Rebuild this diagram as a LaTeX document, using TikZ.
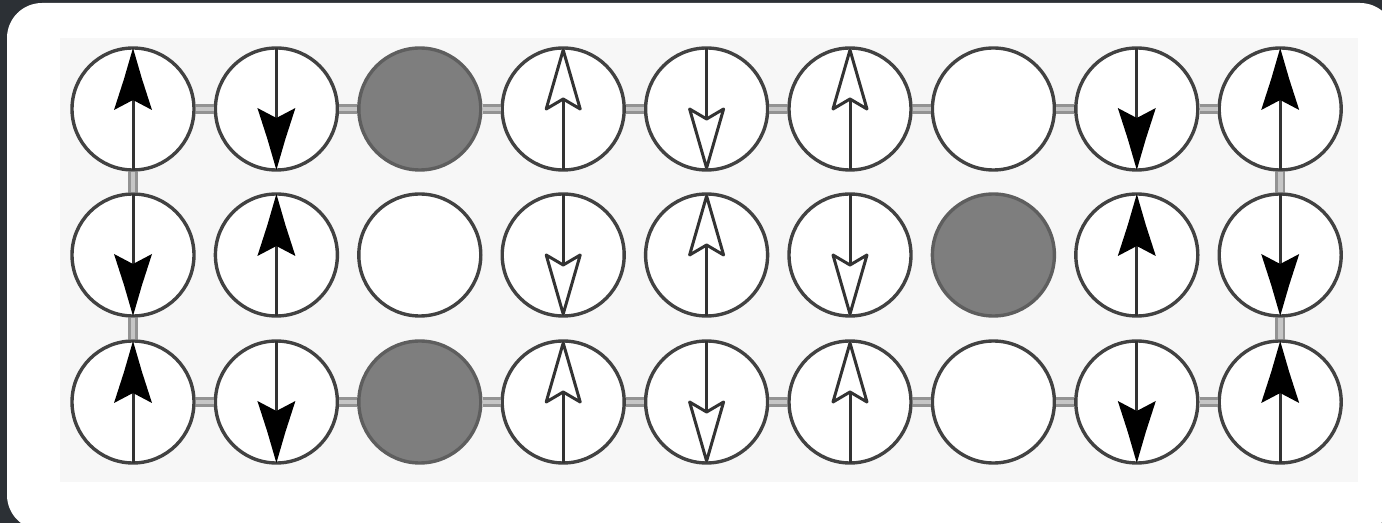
\documentclass[tikz,border=0pt]{standalone}
\usetikzlibrary{calc}
\definecolor{bgdark}{HTML}{2C3035}
\definecolor{panel}{HTML}{F7F7F7}
\definecolor{ring}{HTML}{424242}
\definecolor{disk}{HTML}{7E7E7E}
\begin{document}
\begin{tikzpicture}[x=0.5pt,y=-0.5pt,
  site/.style={circle,draw=ring,line width=1.7pt,minimum size=61pt,inner sep=0pt,fill=white},
  hole/.style={site,fill=disk,draw=disk!75!black},
  bond/.style={draw=gray!85,line width=1.3pt,double=gray!45,double distance=2.4pt},
  shaft/.style={draw=black!80,line width=1.5pt},
  openhead/.style={draw=black!80,line width=1.5pt,fill=white,line join=round},
  picuf/.pic={\draw[shaft] (0,61) -- (0,-50);
              \fill[black] (0,-61) -- (9,-30) -- (19,1) -- (0,-9) -- (-19,1) -- (-9,-30) -- cycle;},
  picdf/.pic={\draw[shaft] (0,-61) -- (0,50);
              \fill[black] (0,61) -- (9,30) -- (19,-1) -- (0,9) -- (-19,-1) -- (-9,30) -- cycle;},
  picuo/.pic={\draw[shaft] (0,61) -- (0,-10);
              \draw[openhead] (0,-59) -- (17,0) -- (0,-10) -- (-17,0) -- cycle;},
  picdo/.pic={\draw[shaft] (0,-61) -- (0,10);
              \draw[openhead] (0,59) -- (17,0) -- (0,10) -- (-17,0) -- cycle;}
]
\useasboundingbox (0,0) rectangle (1382,523);
\clip (0,0) rectangle (1382,523);
\fill[bgdark] (0,0) rectangle (1382,523);
\fill[white,rounded corners=17.5pt] (7,3) rectangle (1395,530);
\fill[panel] (60,38) rectangle (1358,482);

% row 1
\node[site] (n1-1) at (133,109) {};
\node[site] (n1-2) at (276.4,109) {};
\node[hole] (n1-3) at (419.8,109) {};
\node[site] (n1-4) at (563.2,109) {};
\node[site] (n1-5) at (706.6,109) {};
\node[site] (n1-6) at (850,109) {};
\node[site] (n1-7) at (993.4,109) {};
\node[site] (n1-8) at (1136.8,109) {};
\node[site] (n1-9) at (1280.2,109) {};
% row 2
\node[site] (n2-1) at (133,255) {};
\node[site] (n2-2) at (276.4,255) {};
\node[site] (n2-3) at (419.8,255) {};
\node[site] (n2-4) at (563.2,255) {};
\node[site] (n2-5) at (706.6,255) {};
\node[site] (n2-6) at (850,255) {};
\node[hole] (n2-7) at (993.4,255) {};
\node[site] (n2-8) at (1136.8,255) {};
\node[site] (n2-9) at (1280.2,255) {};
% row 3
\node[site] (n3-1) at (133,402) {};
\node[site] (n3-2) at (276.4,402) {};
\node[hole] (n3-3) at (419.8,402) {};
\node[site] (n3-4) at (563.2,402) {};
\node[site] (n3-5) at (706.6,402) {};
\node[site] (n3-6) at (850,402) {};
\node[site] (n3-7) at (993.4,402) {};
\node[site] (n3-8) at (1136.8,402) {};
\node[site] (n3-9) at (1280.2,402) {};

% bonds
\foreach \c [evaluate=\c as \d using int(\c+1)] in {1,...,8} {
  \draw[bond] (n1-\c.east) -- (n1-\d.west);
  \draw[bond] (n3-\c.east) -- (n3-\d.west);
}
\draw[bond] (n1-1.south) -- (n2-1.north);
\draw[bond] (n2-1.south) -- (n3-1.north);
\draw[bond] (n1-9.south) -- (n2-9.north);
\draw[bond] (n2-9.south) -- (n3-9.north);

% spins row 1
\pic at (n1-1) {picuf};
\pic at (n1-2) {picdf};
\pic at (n1-4) {picuo};
\pic at (n1-5) {picdo};
\pic at (n1-6) {picuo};
\pic at (n1-8) {picdf};
\pic at (n1-9) {picuf};
% spins row 2
\pic at (n2-1) {picdf};
\pic at (n2-2) {picuf};
\pic at (n2-4) {picdo};
\pic at (n2-5) {picuo};
\pic at (n2-6) {picdo};
\pic at (n2-8) {picuf};
\pic at (n2-9) {picdf};
% spins row 3
\pic at (n3-1) {picuf};
\pic at (n3-2) {picdf};
\pic at (n3-4) {picuo};
\pic at (n3-5) {picdo};
\pic at (n3-6) {picuo};
\pic at (n3-8) {picdf};
\pic at (n3-9) {picuf};
\end{tikzpicture}
\end{document}
